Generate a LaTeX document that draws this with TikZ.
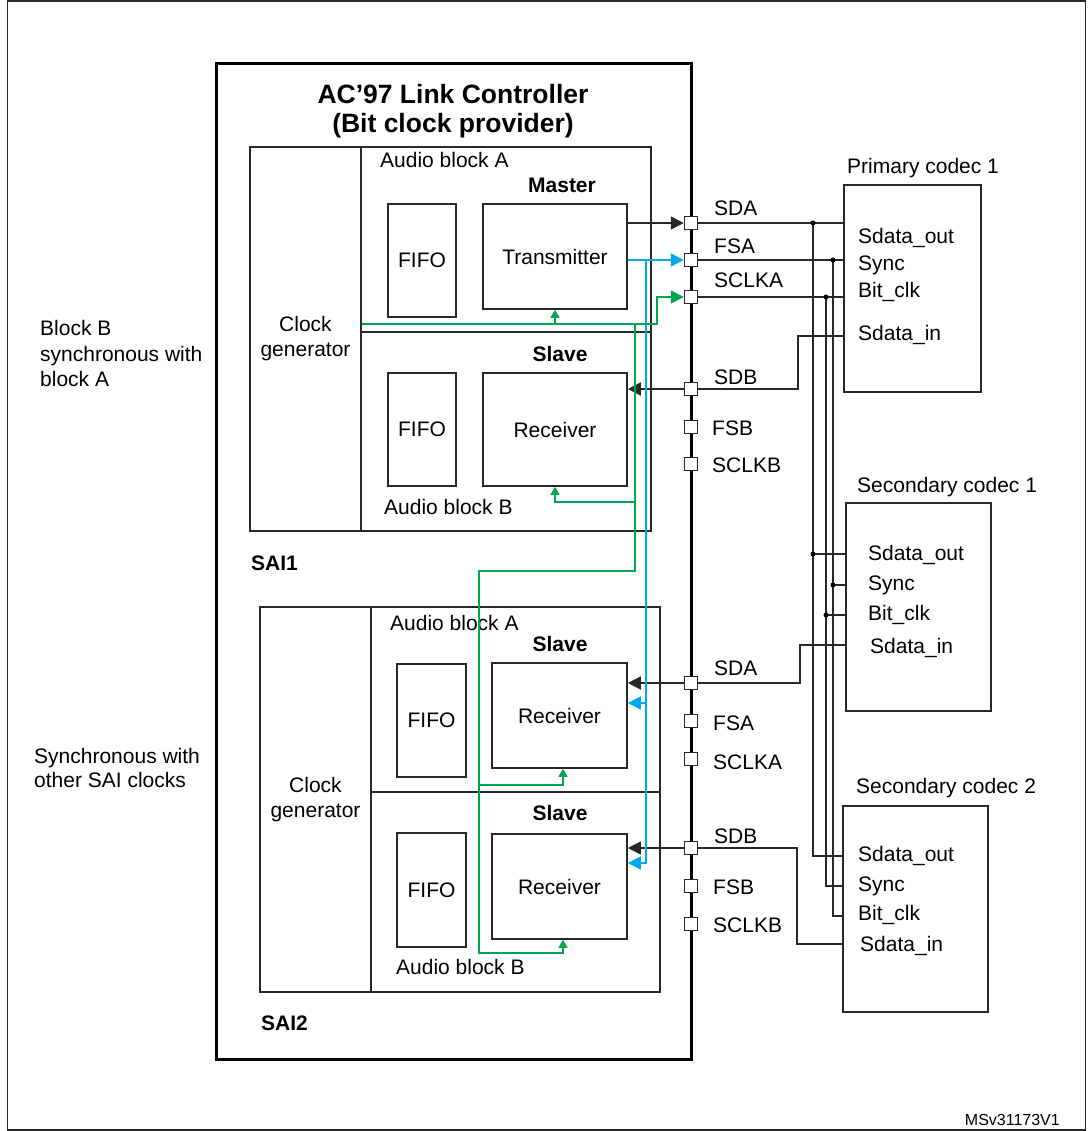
\documentclass[tikz,border=0pt]{standalone}
\usepackage{fontspec}
\setmainfont{Liberation Sans}
\usetikzlibrary{arrows.meta}
\definecolor{cgreen}{RGB}{0,166,81}
\definecolor{cblue}{RGB}{0,170,235}
\definecolor{cline}{RGB}{40,40,40}
\begin{document}
\begin{tikzpicture}[x=1pt,y=-1pt, font=\fontsize{21}{25}\selectfont,
 box/.style={draw=cline,line width=1.6pt,inner sep=0pt,align=center},
 mainbox/.style={draw=black,line width=3pt,inner sep=0pt},
 framebox/.style={draw=cline,line width=1.5pt,inner sep=0pt},
 sqpin/.style={draw=cline,fill=white,line width=1.5pt,minimum size=13pt,inner sep=0pt},
 txt/.style={inner sep=0pt,anchor=west,text height=15pt,text depth=0pt},
 ctxt/.style={inner sep=0pt,text height=15pt,text depth=0pt},
 wire/.style={draw=cline,line width=1.5pt},
 sig/.style={wire,-{Triangle[length=13pt,width=13pt]}},
 bsig/.style={draw=cblue,line width=1.5pt,-{Triangle[length=13pt,width=13pt]}},
 gsig/.style={draw=cgreen,line width=1.5pt,-{Triangle[length=13pt,width=13pt]}},
 gsmall/.style={draw=cgreen,line width=1.5pt,-{Triangle[length=8pt,width=9pt]}},
 jdot/.style={fill=black}
]
\useasboundingbox (0,0) rectangle (1087,1131);
% frame
\node[framebox,minimum width=1078pt,minimum height=1129pt] (frame) at (546.5,565.5) {};
% controller
\node[mainbox,minimum width=475pt,minimum height=995pt] (ctrl) at (453.5,561.5) {};
\node[ctxt,text height=19pt,font=\fontsize{26.5}{30}\selectfont\bfseries] (t1) at (453,94) {AC’97 Link Controller};
\node[ctxt,text height=19pt,font=\fontsize{26.5}{30}\selectfont\bfseries] (t2) at (453,123) {(Bit clock provider)};

% SAI1
\node[box,minimum width=111pt,minimum height=384pt] (cg1) at (305.5,339) {Clock\\generator};
\node[box,minimum width=290pt,minimum height=185pt] (a1A) at (506,239.5) {};
\node[box,minimum width=290pt,minimum height=199pt] (a1B) at (506,431.5) {};
\node[box,minimum width=68pt,minimum height=113pt] (f1a) at (422,260.5) {FIFO};
\node[box,minimum width=144pt,minimum height=105pt] (tx) at (555,256.5) {Transmitter};
\node[box,minimum width=68pt,minimum height=113pt] (f1b) at (422,429.5) {FIFO};
\node[box,minimum width=144pt,minimum height=113pt] (rx1) at (555,429.5) {Receiver};
\node[txt] (l1a) at (380,160) {Audio block A};
\node[ctxt,font=\fontsize{21}{25}\selectfont\bfseries] (m1) at (562,185) {Master};
\node[ctxt,font=\fontsize{21}{25}\selectfont\bfseries] (s1) at (560,354) {Slave};
\node[txt] (l1b) at (384,507) {Audio block B};
\node[txt,font=\fontsize{21}{25}\selectfont\bfseries] (sai1) at (251,563) {SAI1};

% SAI2
\node[box,minimum width=111pt,minimum height=385pt] (cg2) at (315.5,799.5) {Clock\\generator};
\node[box,minimum width=289pt,minimum height=185pt] (a2A) at (515.5,699.5) {};
\node[box,minimum width=289pt,minimum height=200pt] (a2B) at (515.5,892) {};
\node[box,minimum width=69pt,minimum height=113pt] (f2a) at (431.5,720.5) {FIFO};
\node[box,minimum width=135pt,minimum height=105pt] (rx2a) at (559.5,715.5) {Receiver};
\node[box,minimum width=69pt,minimum height=114pt] (f2b) at (431.5,890) {FIFO};
\node[box,minimum width=135pt,minimum height=105pt] (rx2b) at (559.5,886.5) {Receiver};
\node[txt] (l2a) at (390,623) {Audio block A};
\node[ctxt,font=\fontsize{21}{25}\selectfont\bfseries] (s2a) at (560,644) {Slave};
\node[ctxt,font=\fontsize{21}{25}\selectfont\bfseries] (s2b) at (560,813) {Slave};
\node[txt] (l2b) at (396,967) {Audio block B};
\node[txt,font=\fontsize{21}{25}\selectfont\bfseries] (sai2) at (261,1023) {SAI2};

% left notes
\node[txt] (n1) at (40,328) {Block B};
\node[txt] (n2) at (40,354) {synchronous with};
\node[txt] (n3) at (40,379) {block A};
\node[txt] (n4) at (34,756) {Synchronous with};
\node[txt] (n5) at (34,780) {other SAI clocks};

% pins
\node[sqpin] (sda1) at (691,223) {};
\node[sqpin] (fsa1) at (691,260) {};
\node[sqpin] (sclka1) at (691,297) {};
\node[sqpin] (sdb1) at (691,389) {};
\node[sqpin] (fsb1) at (691,427) {};
\node[sqpin] (sclkb1) at (691,464) {};
\node[sqpin] (sda2) at (691,683) {};
\node[sqpin] (fsa2) at (691,721) {};
\node[sqpin] (sclka2) at (691,759) {};
\node[sqpin] (sdb2) at (691,848) {};
\node[sqpin] (fsb2) at (691,886) {};
\node[sqpin] (sclkb2) at (691,924) {};
\node[txt] (lsda1) at (714,208) {SDA};
\node[txt] (lfsa1) at (714,246) {FSA};
\node[txt] (lsclka1) at (714,280) {SCLKA};
\node[txt] (lsdb1) at (714,377) {SDB};
\node[txt] (lfsb1) at (712,428) {FSB};
\node[txt] (lsclkb1) at (712,465) {SCLKB};
\node[txt] (lsda2) at (714,668) {SDA};
\node[txt] (lfsa2) at (713,723) {FSA};
\node[txt] (lsclka2) at (713,762) {SCLKA};
\node[txt] (lsdb2) at (714,836) {SDB};
\node[txt] (lfsb2) at (713,887) {FSB};
\node[txt] (lsclkb2) at (713,925) {SCLKB};

% codecs
\node[box,minimum width=137pt,minimum height=207pt] (pc1) at (912.5,288.5) {};
\node[box,minimum width=145pt,minimum height=208pt] (sc1) at (918.5,607) {};
\node[box,minimum width=145pt,minimum height=206pt] (sc2) at (915.5,909) {};
\node[txt] (tpc1) at (847,166) {Primary codec 1};
\node[txt] (tsc1) at (857,485) {Secondary codec 1};
\node[txt] (tsc2) at (856,786) {Secondary codec 2};
\node[txt] (p1a) at (858,236) {Sdata\_out};
\node[txt] (p1b) at (858,263) {Sync};
\node[txt] (p1c) at (858,290) {Bit\_clk};
\node[txt] (p1d) at (858,333) {Sdata\_in};
\node[txt] (q1a) at (868,553) {Sdata\_out};
\node[txt] (q1b) at (868,583) {Sync};
\node[txt] (q1c) at (868,613) {Bit\_clk};
\node[txt] (q1d) at (870,646) {Sdata\_in};
\node[txt] (r1a) at (858,854) {Sdata\_out};
\node[txt] (r1b) at (858,884) {Sync};
\node[txt] (r1c) at (858,913) {Bit\_clk};
\node[txt] (r1d) at (860,944) {Sdata\_in};
\node[inner sep=0pt,anchor=east,text height=11.5pt,text depth=0pt,font=\fontsize{16}{18}\selectfont] (ref) at (1060,1120) {MSv31173V1};

% helper coordinates
\coordinate (busA) at (813,0);
\coordinate (busB) at (826,0);
\coordinate (busC) at (833,0);
\coordinate (x798) at (798,0);
\coordinate (x800) at (800,0);
\coordinate (x797) at (797,0);
\coordinate (y336) at (0,336);
\coordinate (y554) at (0,554);
\coordinate (y585) at (0,585);
\coordinate (y615) at (0,615);
\coordinate (y645) at (0,645);
\coordinate (y856) at (0,856);
\coordinate (y886) at (0,886);
\coordinate (y916) at (0,916);
\coordinate (y944) at (0,944);
\coordinate (bv) at (646,0);
\coordinate (y703) at (0,703);
\coordinate (y863) at (0,863);
\coordinate (gy) at (0,324);
\coordinate (gx1) at (657,0);
\coordinate (gx2) at (635,0);
\coordinate (gx3) at (479,0);
\coordinate (gx4) at (563,0);
\coordinate (y502) at (0,502);
\coordinate (y571) at (0,571);
\coordinate (y785) at (0,785);
\coordinate (y953) at (0,953);

% codec wiring
\draw[wire] (sda1.east) -- (sda1 -| pc1.west);
\draw[wire] (fsa1.east) -- (fsa1 -| pc1.west);
\draw[wire] (sclka1.east) -- (sclka1 -| pc1.west);
\draw[wire] (pc1.west |- y336) -- (x798 |- y336) -- (x798 |- sdb1) -- (sdb1.east);
\draw[wire] (busA |- sda1) -- (busA |- y856) -- (sc2.west |- y856);
\draw[wire] (busC |- fsa1) -- (busC |- y916) -- (sc2.west |- y916);
\draw[wire] (busB |- sclka1) -- (busB |- y886) -- (sc2.west |- y886);
\draw[wire] (busA |- y554) -- (sc1.west |- y554);
\draw[wire] (busC |- y585) -- (sc1.west |- y585);
\draw[wire] (busB |- y615) -- (sc1.west |- y615);
\draw[wire] (sc1.west |- y645) -- (x800 |- y645) -- (x800 |- sda2) -- (sda2.east);
\draw[wire] (sc2.west |- y944) -- (x797 |- y944) -- (x797 |- sdb2) -- (sdb2.east);
\foreach \p in {(busA |- sda1),(busC |- fsa1),(busB |- sclka1),(busA |- y554),(busC |- y585),(busB |- y615)}
  \fill[jdot] \p circle (2.5pt);

% data arrows
\draw[sig] (tx.east |- sda1) -- (sda1.west);
\draw[sig] (sdb1.west) -- (rx1.east |- sdb1);
\draw[sig] (sda2.west) -- (rx2a.east |- sda2);
\draw[sig] (sdb2.west) -- (rx2b.east |- sdb2);

% frame sync (blue)
\draw[bsig] (tx.east |- fsa1) -- (fsa1.west);
\draw[bsig] (bv |- fsa1) -- (bv |- y863) -- (rx2b.east |- y863);
\draw[bsig] (bv |- y703) -- (rx2a.east |- y703);

% bit clock (green)
\draw[gsig] (cg1.east |- gy) -- (gx1 |- gy) -- (gx1 |- sclka1) -- (sclka1.west);
\draw[gsmall] (tx.south |- gy) -- (tx.south);
\draw[gsmall] (gx2 |- gy) -- (gx2 |- y571) -- (gx3 |- y571) -- (gx3 |- y953) -- (gx4 |- y953) -- (gx4 |- rx2b.south);
\draw[gsmall] (gx2 |- y502) -- (rx1.south |- y502) -- (rx1.south);
\draw[gsmall] (gx3 |- y785) -- (gx4 |- y785) -- (gx4 |- rx2a.south);
\end{tikzpicture}
\end{document}
